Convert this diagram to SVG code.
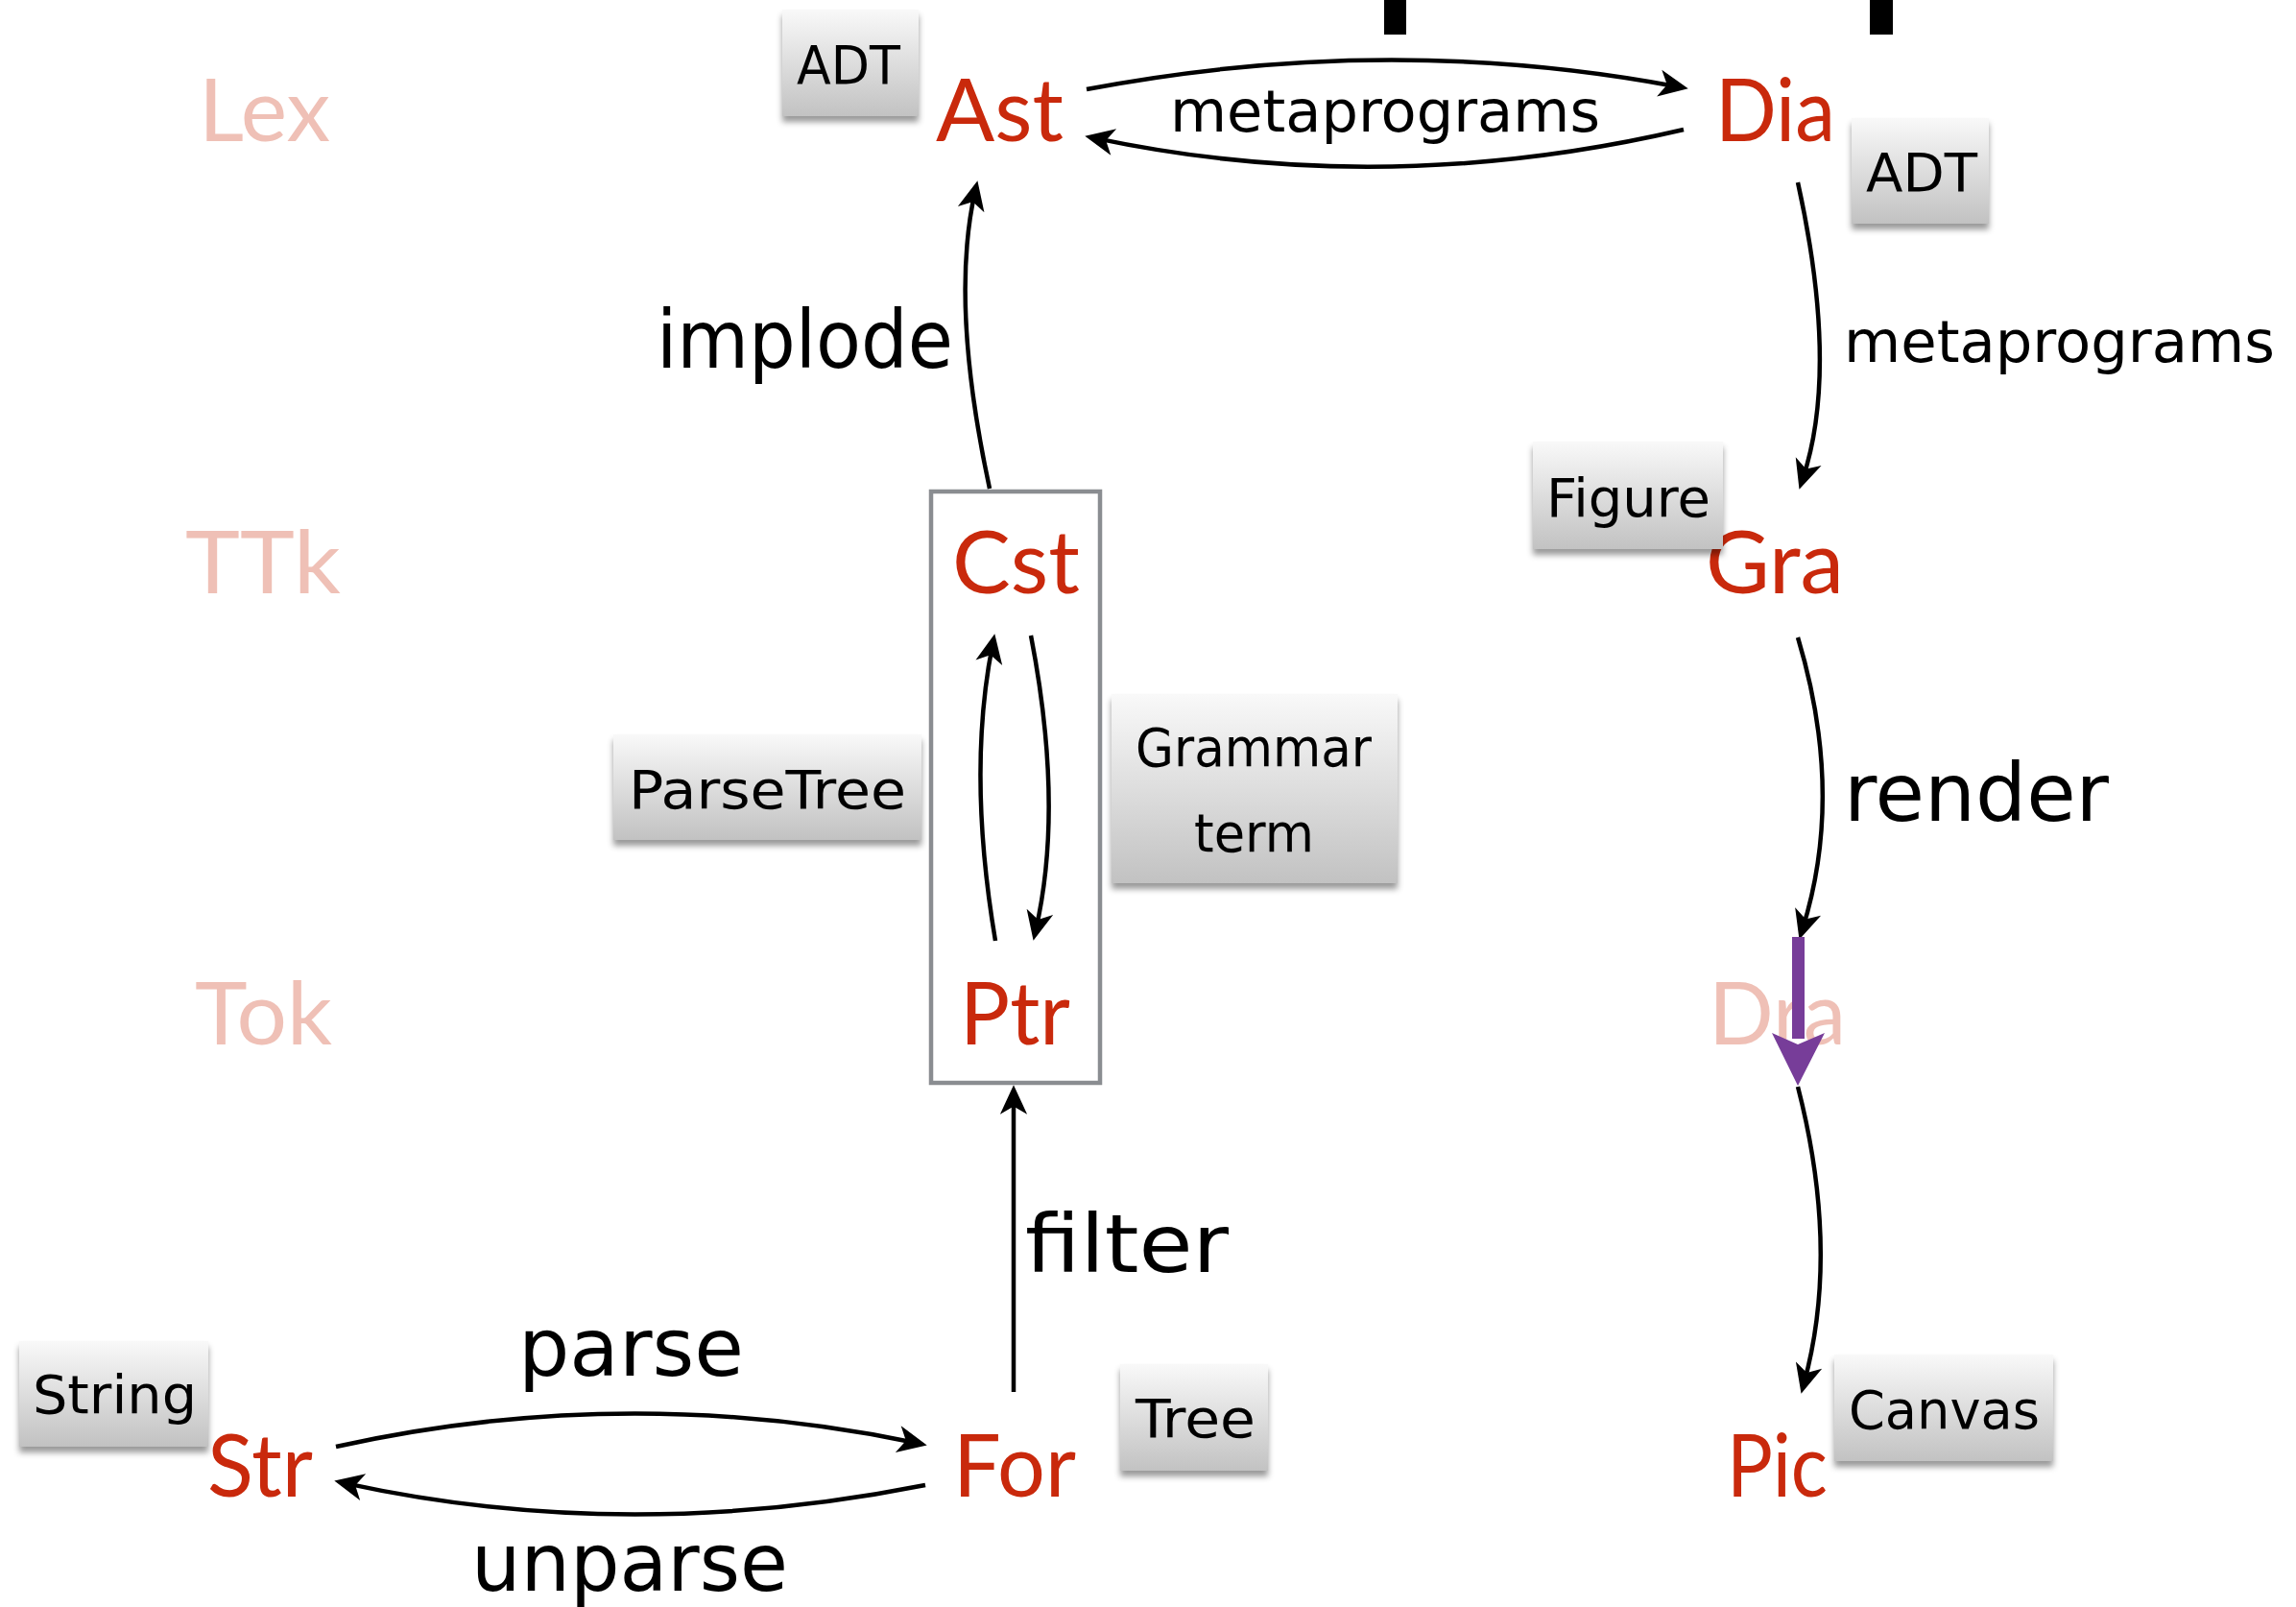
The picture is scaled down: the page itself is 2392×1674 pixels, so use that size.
<svg xmlns="http://www.w3.org/2000/svg" width="2392" height="1674" viewBox="0 0 2392 1674">
<style>
.node{font-family:Lato,"Open Sans","Liberation Sans",sans-serif;font-size:92px;fill:#c9290c}
.pale{font-family:Lato,"Open Sans","Liberation Sans",sans-serif;font-size:92px;fill:#efc0b6}
.hand{font-family:"DejaVu Sans","Liberation Sans",sans-serif;fill:#000}
.lbl{font-size:60px}
.big{font-size:84px}
.typ{font-size:56px}
.box{fill:url(#g);filter:url(#sh)}
.c{fill:none;stroke:#000;stroke-width:4.5;marker-end:url(#ah)}
</style>
<defs>
<linearGradient id="g" x1="0" y1="0" x2="0" y2="1">
<stop offset="0" stop-color="#f9f9f9"/>
<stop offset="1" stop-color="#c2c2c2"/>
</linearGradient>
<filter id="sh" x="-20%" y="-20%" width="140%" height="150%">
<feDropShadow dx="0" dy="6" stdDeviation="3" flood-color="#000" flood-opacity="0.4"/>
</filter>
<marker id="ah" markerUnits="userSpaceOnUse" markerWidth="40" markerHeight="40" viewBox="-20 -15 34 30" refX="0" refY="0" orient="auto">
<path d="M10,0 L-16,-12 L-9,0 L-16,12 Z" fill="#000"/>
</marker>
</defs>
<rect width="2392" height="1674" fill="#fff"/>

<g id="bars">
<rect x="1442" y="0" width="23" height="36" fill="#000"/>
<rect x="1948" y="0" width="24" height="36" fill="#000"/>
</g>

<g id="layers">
<text class="pale" x="207" y="147" textLength="137" lengthAdjust="spacingAndGlyphs">Lex</text>
<text class="pale" x="193" y="618" textLength="162" lengthAdjust="spacingAndGlyphs">TTk</text>
<text class="pale" x="203" y="1088" textLength="143" lengthAdjust="spacingAndGlyphs">Tok</text>
</g>

<g id="cst-ptr-frame">
<rect x="970" y="512" width="176" height="616" fill="none" stroke="#8a8d91" stroke-width="4.5"/>
</g>

<g id="connectors">
<path class="c" d="M1132,93 Q1445,33.5 1747.2,90.2"/>
<path class="c" d="M1754,135 Q1443,207.5 1141.8,144.1"/>
<path class="c" d="M1031,509 Q989.5,316 1015.8,199.8"/>
<path class="c" d="M1037,980 Q1007.5,805 1034,671.8"/>
<path class="c" d="M1074,662 Q1108.5,840 1079.2,968.2"/>
<path class="c" d="M1056,1450 L1056,1142"/>
<path class="c" d="M350,1507 Q652,1440 954.2,1503"/>
<path class="c" d="M964,1547 Q652,1609 359.8,1545.1"/>
<path class="c" d="M1873,190 Q1916,385 1878.2,498.5"/>
<path class="c" d="M1873,664 Q1922,827 1878,967.5"/>
<path class="c" d="M1873,1132 Q1917,1303 1879.6,1440.3"/>
</g>

<g id="labels" class="hand">
<text class="lbl" x="1219" y="137" textLength="448" lengthAdjust="spacingAndGlyphs">metaprograms</text>
<text class="lbl" x="1921" y="377" textLength="449" lengthAdjust="spacingAndGlyphs">metaprograms</text>
<text class="big" x="684" y="383" textLength="309" lengthAdjust="spacingAndGlyphs">implode</text>
<text class="big" x="1921" y="855" textLength="276" lengthAdjust="spacingAndGlyphs">render</text>
<text class="big" x="1068" y="1325" textLength="212" lengthAdjust="spacingAndGlyphs">filter</text>
<text class="big" x="540" y="1433" textLength="235" lengthAdjust="spacingAndGlyphs">parse</text>
<text class="big" x="491" y="1657" textLength="330" lengthAdjust="spacingAndGlyphs">unparse</text>
</g>

<g id="node-Ast"><text class="node" x="975" y="147" textLength="133" lengthAdjust="spacingAndGlyphs">Ast</text></g>
<g id="node-Dia"><text class="node" x="1787" y="147" textLength="125" lengthAdjust="spacingAndGlyphs">Dia</text></g>
<g id="node-Cst"><text class="node" x="992" y="618" textLength="133" lengthAdjust="spacingAndGlyphs">Cst</text></g>
<g id="node-Gra"><text class="node" x="1777" y="618" textLength="144" lengthAdjust="spacingAndGlyphs">Gra</text></g>
<g id="node-Ptr"><text class="node" x="1000" y="1088" textLength="115" lengthAdjust="spacingAndGlyphs">Ptr</text></g>
<g id="node-Dra"><text class="pale" x="1780" y="1088" textLength="143" lengthAdjust="spacingAndGlyphs">Dra</text></g>
<g id="node-Str"><text class="node" x="216" y="1559" textLength="110" lengthAdjust="spacingAndGlyphs">Str</text></g>
<g id="node-For"><text class="node" x="993" y="1559" textLength="128" lengthAdjust="spacingAndGlyphs">For</text></g>
<g id="node-Pic"><text class="node" x="1799" y="1559" textLength="105" lengthAdjust="spacingAndGlyphs">Pic</text></g>

<g id="purple-arrow">
<rect x="1867" y="976" width="13" height="106" fill="#773d99"/>
<polygon points="1846,1076 1873,1088 1901,1076 1873,1131" fill="#773d99"/>
</g>

<g id="type-ADT-ast" class="hand">
<rect class="box" x="815" y="10" width="142" height="111"/>
<text class="typ" x="830" y="87" textLength="108" lengthAdjust="spacingAndGlyphs">ADT</text>
</g>
<g id="type-ADT-dia" class="hand">
<rect class="box" x="1929" y="123" width="143" height="110"/>
<text class="typ" x="1944" y="199" textLength="116" lengthAdjust="spacingAndGlyphs">ADT</text>
</g>
<g id="type-Figure" class="hand">
<rect class="box" x="1597" y="460" width="198" height="112"/>
<text class="typ" x="1611" y="538" textLength="171" lengthAdjust="spacingAndGlyphs">Figure</text>
</g>
<g id="type-ParseTree" class="hand">
<rect class="box" x="639" y="765" width="321" height="110"/>
<text class="typ" x="655" y="842" textLength="289" lengthAdjust="spacingAndGlyphs">ParseTree</text>
</g>
<g id="type-Grammar" class="hand">
<rect class="box" x="1158" y="723" width="298" height="197"/>
<text class="typ" x="1183" y="798" textLength="246" lengthAdjust="spacingAndGlyphs">Grammar</text>
<text class="typ" x="1244" y="887" textLength="125" lengthAdjust="spacingAndGlyphs">term</text>
</g>
<g id="type-String" class="hand">
<rect class="box" x="20" y="1397" width="197" height="110"/>
<text class="typ" x="34" y="1472" textLength="171" lengthAdjust="spacingAndGlyphs">String</text>
</g>
<g id="type-Tree" class="hand">
<rect class="box" x="1167" y="1421" width="154" height="111"/>
<text class="typ" x="1183" y="1497" textLength="125" lengthAdjust="spacingAndGlyphs">Tree</text>
</g>
<g id="type-Canvas" class="hand">
<rect class="box" x="1911" y="1411" width="228" height="111"/>
<text class="typ" x="1926" y="1488" textLength="199" lengthAdjust="spacingAndGlyphs">Canvas</text>
</g>
</svg>
